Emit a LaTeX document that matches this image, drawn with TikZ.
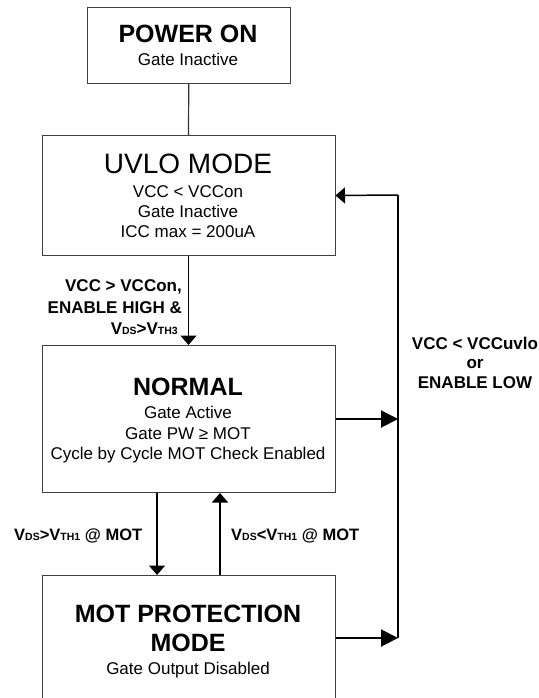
\documentclass[tikz,border=0pt]{standalone}
\usepackage{fontspec}
\setmainfont{Liberation Sans}
\usetikzlibrary{arrows.meta}
\newcommand\sbx[1]{\raisebox{-0.6pt}{\fontsize{10.5}{10.5}\selectfont #1}}
\begin{document}
\begin{tikzpicture}[x=1pt,y=-1pt,
  box/.style={draw=black!75, line width=1pt, inner sep=0pt, anchor=north west},
  ttl/.style={anchor=base, inner sep=0pt, font=\fontsize{25}{30}\selectfont\bfseries},
  ttlreg/.style={anchor=base, inner sep=0pt, font=\fontsize{28}{32}\selectfont},
  sub/.style={anchor=base, inner sep=0pt, font=\fontsize{17}{20}\selectfont},
  lbl/.style={anchor=base, inner sep=0pt, font=\fontsize{17}{20}\selectfont\bfseries},
  plainline/.style={draw=black!80, line width=1.2pt},
  flatarrow/.style={draw=black, line width=1.5pt, -{Triangle[length=9.5pt,width=16pt]}},
  bigarrow/.style={draw=black, line width=2pt, -{Triangle[length=17pt,width=17pt]}},
  rail/.style={draw=black, line width=1.8pt}
]
\useasboundingbox (0,0) rectangle (538,698);
\clip (0,0) rectangle (538,698);

% boxes
\node[box, minimum width=203.5pt, minimum height=76pt] (pwr) at (86.5,7) {};
\node[box, minimum width=293pt, minimum height=120pt] (uvlo) at (41.5,135) {};
\node[box, minimum width=293pt, minimum height=147pt] (norm) at (41.5,345) {};
\node[box, minimum width=293pt, minimum height=126pt] (mot) at (41.5,575) {};

% box texts
\node[ttl] (pwrA) at (188,43) {POWER ON};
\node[sub] (pwrB) at (188,66) {Gate Inactive};

\node[ttlreg] (uvA) at (188,173) {UVLO MODE};
\node[sub] (uvB) at (188,197) {VCC < VCCon};
\node[sub] (uvC) at (188,217) {Gate Inactive};
\node[sub] (uvD) at (188,237) {ICC max = 200uA};

\node[ttl] (noA) at (188,395) {NORMAL};
\node[sub] (noB) at (188,418) {Gate Active};
\node[sub] (noC) at (188,439) {Gate PW ≥ MOT};
\node[sub] (noD) at (188,459) {Cycle by Cycle MOT Check Enabled};

\node[ttl] (moA) at (188,622) {MOT PROTECTION};
\node[ttl] (moB) at (188,651) {MODE};
\node[sub] (moC) at (188,674) {Gate Output Disabled};

% connectors
\draw[plainline] (pwr.south) -- (uvlo.north);
\draw[flatarrow] (uvlo.south) -- (norm.north);

\coordinate (dx) at (157,0);
\coordinate (ux) at (220,0);
\draw[flatarrow] (norm.south -| dx) -- (mot.north -| dx);
\draw[flatarrow] (mot.north -| ux) -- (norm.south -| ux);

\coordinate (vt) at (398,195);
\coordinate (vb) at (398,638);
\draw[rail] (vb) -- (vt);
\draw[flatarrow] (vt) -- (uvlo.east);
\draw[bigarrow] (norm.east) -- (norm.east -| vt);
\draw[bigarrow] (mot.east |- vb) -- (vb);

% labels
\node[lbl, anchor=base east] (lA) at (182,291) {VCC > VCCon,};
\node[lbl, anchor=base east] (lB) at (182,313) {ENABLE HIGH \&};
\node[lbl, anchor=base east] (lC) at (178,334) {V\sbx{DS}>V\sbx{TH3}};

\node[lbl] (rA) at (475,349) {VCC < VCCuvlo};
\node[lbl] (rB) at (475,368) {or};
\node[lbl] (rC) at (475,388) {ENABLE LOW};

\node[lbl, anchor=base west, font=\fontsize{16.5}{20}\selectfont\bfseries] (bL) at (14,540) {V\sbx{DS}>V\sbx{TH1} @ MOT};
\node[lbl, anchor=base west, font=\fontsize{16.5}{20}\selectfont\bfseries] (bR) at (231,540) {V\sbx{DS}<V\sbx{TH1} @ MOT};
\end{tikzpicture}
\end{document}
